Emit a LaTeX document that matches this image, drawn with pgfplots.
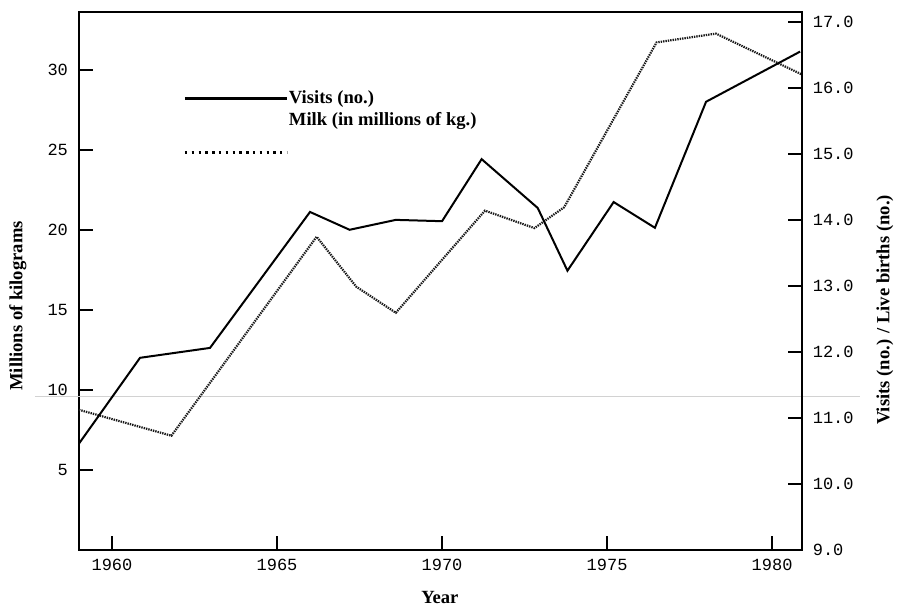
\documentclass[border=0pt]{standalone}
\usepackage{fontspec}
\setmainfont{Liberation Serif}
\setmonofont{Liberation Mono}
\usepackage{pgfplots}
\usepackage{pgfplotstable}
\pgfplotsset{compat=1.18}

% Milk, millions of kg (left axis)
\pgfplotstableread{
year milk
1959.0 8.75
1961.8 7.13
1966.2 19.56
1967.4 16.44
1968.6 14.81
1971.3 21.19
1972.8 20.10
1973.7 21.40
1976.5 31.70
1978.3 32.25
1980.9 29.70
}\milk

% Visits (right axis)
\pgfplotstableread{
year visits
1959.0 10.61
1960.85 11.91
1962.97 12.06
1966.0 14.12
1967.2 13.85
1968.6 14.00
1970.0 13.98
1971.2 14.92
1972.9 14.18
1973.8 13.23
1975.2 14.27
1976.45 13.88
1978.0 15.79
1980.85 16.55
}\visits

\newcommand{\lbl}{\fontsize{9.3}{11}\selectfont\bfseries}

\pgfplotsset{
  base/.style={
    width=361.5pt, height=269pt, scale only axis,
    xmin=1959, xmax=1980.9,
    tick align=inside,
    major tick length=7pt,
    tick style={line width=0.9pt, black},
    axis line style={line width=1pt},
    /pgf/number format/assume math mode=true,
    ticklabel style={font=\ttfamily\fontsize{8.5}{9}\selectfont},
  },
}

\begin{document}
\begin{tikzpicture}
\begin{axis}[base,
  ymin=0, ymax=33.6,
  xtick={1960,1965,...,1980},
  ytick={5,10,...,30},
  xtick pos=bottom, ytick pos=left,
  x tick label style={/pgf/number format/1000 sep={}, yshift=-1pt},
  y tick label style={xshift=-2pt},
  clip=false,
]
  % scan artifact line
  \draw[gray!35, line width=0.6pt] (rel axis cs:-0.061,0.2844) -- (rel axis cs:1.08,0.2844);
  \addplot[black!90, line width=1.1pt, dash pattern=on 0.7pt off 0.5pt] table[x=year, y=milk] {\milk};
  % legend
  \draw[black, line width=1.6pt] (axis cs:1962.21,28.19) -- (axis cs:1965.3,28.19);
  \node[anchor=west, inner sep=0pt, font=\lbl] at (axis cs:1965.35,28.19) {Visits (no.)};
  \node[anchor=west, inner sep=0pt, font=\lbl] at (axis cs:1965.35,26.8) {Milk (in millions of kg.)};
  \draw[black, line width=1.6pt, dash pattern=on 1.2pt off 2.2pt] (axis cs:1962.21,24.81) -- (axis cs:1965.3,24.81);
  % axis titles
  \node[rotate=90, font=\lbl] at (rel axis cs:-0.0844,0.4535) {Millions of kilograms};
  \node[rotate=90, font=\lbl] at (rel axis cs:1.115,0.446) {Visits (no.) / Live births (no.)};
  \node[font=\lbl] at (rel axis cs:0.4993,-0.0892) {Year};
  \coordinate (SW) at (rel axis cs:0,0);
  \coordinate (NE) at (rel axis cs:1,1);
\end{axis}
\begin{axis}[base,
  ymin=9, ymax=17.15,
  axis y line*=right, axis x line=none,
  tick align=inside,
  ytick={9,10,...,17},
  y tick label style={xshift=2pt, /pgf/number format/fixed, /pgf/number format/fixed zerofill, /pgf/number format/precision=1},
]
  \addplot[black, line width=1pt] table[x=year, y=visits] {\visits};
\end{axis}
\path ([shift={(-39.5pt,-29.5pt)}]SW) rectangle ([shift={(49pt,6pt)}]NE);
\end{tikzpicture}
\end{document}
